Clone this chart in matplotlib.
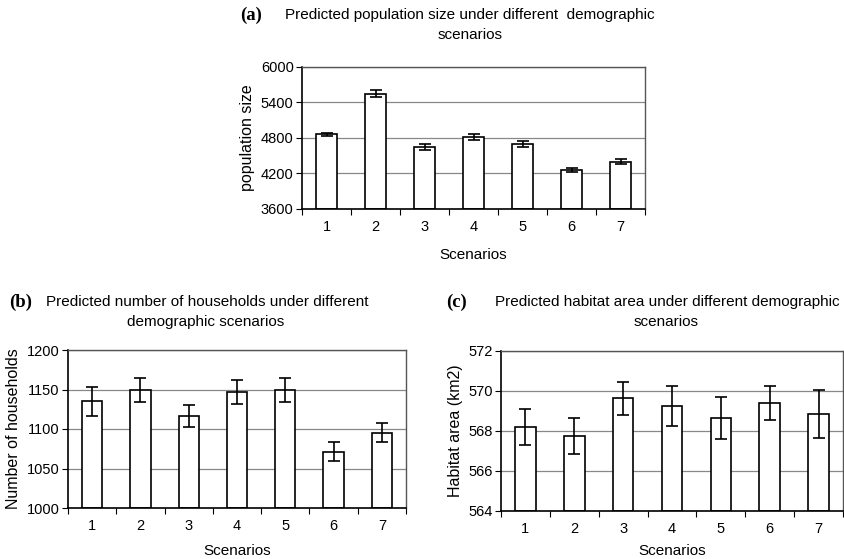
import matplotlib
matplotlib.use("Agg")
import matplotlib.pyplot as plt
import numpy as np

plt.rcParams['font.family'] = ['Liberation Sans', 'DejaVu Sans']

scenarios = [1, 2, 3, 4, 5, 6, 7]

pop_mean = [4860, 5550, 4645, 4812, 4700, 4260, 4398]
pop_err = [30, 65, 55, 50, 45, 40, 40]

hh_mean = [1135, 1149, 1116, 1147, 1149, 1071, 1095]
hh_err = [18, 15, 14, 15, 15, 12, 12]

hab_mean = [568.2, 567.75, 569.63, 569.25, 568.65, 569.4, 568.87]
hab_err = [0.91, 0.88, 0.83, 1.02, 1.03, 0.83, 1.2]

W, H = 844, 559
fig = plt.figure(figsize=(W / 100, H / 100), dpi=100)


def px_axes(x0, y0, x1, y1):
    return fig.add_axes([x0 / W, 1 - y1 / H, (x1 - x0) / W, (y1 - y0) / H])


def ftext(x, y, s, **kw):
    fig.text(x / W, 1 - y / H, s, **kw)


def draw_panel(ax, means, errs, ylim, yticks, ylabel, xlabelpad):
    ax.set_axisbelow(True)
    ax.bar(scenarios, [m - ylim[0] for m in means], bottom=ylim[0], width=0.42,
           color='white', edgecolor='black', linewidth=1.2, zorder=2)
    ax.errorbar(scenarios, means, yerr=errs, fmt='none', ecolor='black',
                elinewidth=1.2, capsize=4, capthick=1.2, zorder=3)
    ax.set_xlim(0.5, 7.5)
    ax.set_ylim(*ylim)
    ax.set_yticks(yticks)
    ax.set_xticks(scenarios)
    ax.set_xticks(np.arange(0.5, 7.6, 1.0), minor=True)
    ax.tick_params(axis='x', which='major', length=0, labelsize=10.5, pad=8)
    ax.tick_params(axis='x', which='minor', length=4, width=0.8, direction='out')
    ax.tick_params(axis='y', which='major', length=4, width=0.8, labelsize=10.5, pad=2)
    ax.yaxis.grid(True, color='#888888', linewidth=0.9)
    for s in ['top', 'right']:
        ax.spines[s].set_color('#555555')
        ax.spines[s].set_linewidth(1.0)
    for s in ['left', 'bottom']:
        ax.spines[s].set_color('black')
        ax.spines[s].set_linewidth(1.2)
    ax.set_ylabel(ylabel, fontsize=11.5, labelpad=4)
    ax.set_xlabel('Scenarios', fontsize=11, labelpad=xlabelpad)


# Panel (a)
ax_a = px_axes(302, 67, 645, 209)
draw_panel(ax_a, pop_mean, pop_err, (3600, 6000), [3600, 4200, 4800, 5400, 6000],
           'population size', 10)
ftext(251, 15, '(a)', family='Liberation Serif', fontweight='bold', fontsize=13.5,
      ha='center', va='center')
ftext(470, 15, 'Predicted population size under different  demographic',
      fontsize=11, ha='center', va='center')
ftext(470, 35, 'scenarios', fontsize=11, ha='center', va='center')

# Panel (b)
ax_b = px_axes(68, 350, 406, 508)
draw_panel(ax_b, hh_mean, hh_err, (1000, 1200), [1000, 1050, 1100, 1150, 1200],
           'Number of households', 8)
ftext(21, 302, '(b)', family='Liberation Serif', fontweight='bold', fontsize=13.5,
      ha='center', va='center')
ftext(207, 302, 'Predicted number of households under different',
      fontsize=11, ha='center', va='center')
ftext(206, 322, 'demographic scenarios', fontsize=11, ha='center', va='center')

# Panel (c)
ax_c = px_axes(501, 351, 843, 511)
draw_panel(ax_c, hab_mean, hab_err, (564, 572), [564, 566, 568, 570, 572],
           'Habitat area (km2)', 6)
ftext(457, 302, '(c)', family='Liberation Serif', fontweight='bold', fontsize=13.5,
      ha='center', va='center')
ftext(667, 302, 'Predicted habitat area under different demographic',
      fontsize=11, ha='center', va='center')
ftext(666, 322, 'scenarios', fontsize=11, ha='center', va='center')

fig.savefig('out.png', dpi=100)
